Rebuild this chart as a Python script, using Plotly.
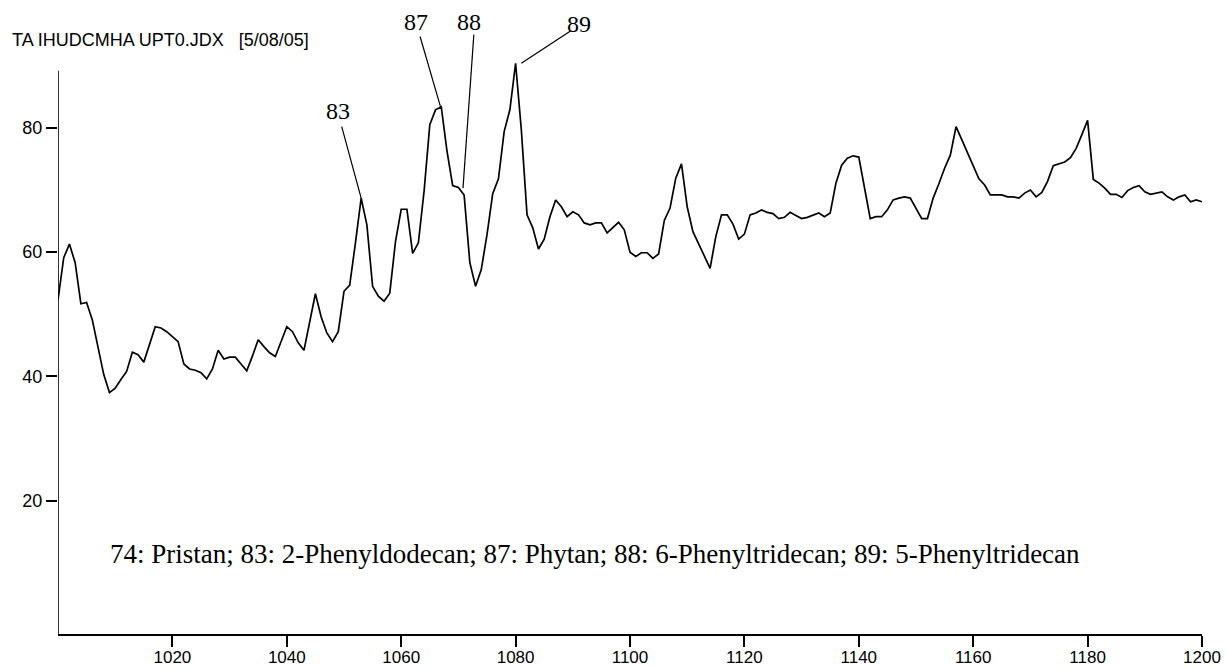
import plotly.graph_objects as go

# Retention index grid and detector signal
retention_index = list(range(1000, 1201))
signal = [
    52.3, 59.1, 61.3, 58.3, 51.7, 51.9, 49.1, 44.8, 40.3, 37.4,
    38.1, 39.5, 40.8, 43.9, 43.5, 42.3, 45.1, 48.0, 47.8, 47.2,
    46.4, 45.6, 42.0, 41.2, 41.0, 40.6, 39.6, 41.2, 44.2, 42.8,
    43.1, 43.1, 42.0, 40.9, 43.3, 45.9, 44.8, 43.8, 43.2, 45.6,
    48.0, 47.2, 45.4, 44.2, 48.8, 53.3, 49.6, 47.0, 45.6, 47.2,
    53.7, 54.7, 61.5, 68.7, 64.4, 54.5, 52.9, 52.1, 53.4, 61.7,
    66.9, 66.9, 59.8, 61.5, 69.8, 80.5, 82.9, 83.4, 76.3, 70.7,
    70.4, 69.2, 58.3, 54.5, 57.2, 62.8, 69.4, 71.8, 79.4, 82.9,
    90.4, 79.7, 66.0, 63.9, 60.5, 62.1, 65.7, 68.4, 67.3, 65.7,
    66.5, 66.0, 64.7, 64.4, 64.7, 64.7, 63.1, 64.0, 64.8, 63.6,
    60.0, 59.3, 59.9, 59.9, 59.0, 59.7, 65.1, 67.1, 71.9, 74.2,
    67.3, 63.3, 61.4, 59.4, 57.4, 62.5, 66.0, 66.0, 64.5, 62.1,
    62.9, 66.0, 66.3, 66.8, 66.4, 66.2, 65.4, 65.6, 66.4, 65.9,
    65.4, 65.6, 66.0, 66.3, 65.7, 66.3, 71.1, 74.0, 75.1, 75.5,
    75.3, 70.6, 65.4, 65.7, 65.7, 66.8, 68.4, 68.7, 68.9, 68.7,
    67.0, 65.4, 65.4, 68.7, 71.0, 73.5, 75.6, 80.2, 78.1, 75.9,
    73.8, 71.8, 70.8, 69.2, 69.2, 69.2, 68.9, 68.9, 68.7, 69.5,
    70.0, 68.9, 69.6, 71.4, 73.9, 74.2, 74.5, 75.2, 76.7, 78.9,
    81.2, 71.7, 71.1, 70.3, 69.3, 69.3, 68.8, 69.9, 70.4, 70.7,
    69.7, 69.3, 69.5, 69.7, 68.9, 68.4, 68.9, 69.2, 68.1, 68.4,
    68.1,
]

x_ticks = [1020, 1040, 1060, 1080, 1100, 1120, 1140, 1160, 1180, 1200]
y_ticks = [20, 40, 60, 80]

# Peak labels: text, label position, leader line start and end
peak_labels = ["83", "87", "88", "89"]
label_x = [1048.9, 1062.5, 1071.9, 1091.1]
label_y = [82.7, 97.0, 97.0, 96.7]
leader_from = [(1049.6, 80.2), (1063.3, 94.7), (1072.7, 95.0), (1089.6, 95.6)]
leader_to = [(1053.0, 68.7), (1066.9, 83.3), (1070.8, 70.3), (1081.0, 90.4)]

title_text = "TA IHUDCMHA UPT0.JDX   [5/08/05]"
legend_text = ("74: Pristan; 83: 2-Phenyldodecan; 87: Phytan; "
               "88: 6-Phenyltridecan; 89: 5-Phenyltridecan")

y_min, y_max = -1.45, 98.0
y_axis_top = 89.2

W, H = 1226, 668
ML, MR, MT, MB = 58, 24, 16, 34
plot_w, plot_h = W - ML - MR, H - MT - MB

sans = "Liberation Sans, Arial, sans-serif"
serif = "Liberation Serif, Times New Roman, serif"

fig = go.Figure()
fig.add_trace(go.Scatter(
    x=retention_index, y=signal, mode="lines",
    line=dict(color="black", width=1.7),
    hoverinfo="skip", showlegend=False,
))

shapes = [
    # vertical axis line stops below the top of the plotting area
    dict(type="line", xref="x", yref="y", x0=1000, x1=1000, y0=y_min, y1=y_axis_top,
         line=dict(color="black", width=1.6)),
]
for (x0, y0), (x1, y1) in zip(leader_from, leader_to):
    shapes.append(dict(type="line", xref="x", yref="y", x0=x0, y0=y0, x1=x1, y1=y1,
                       line=dict(color="black", width=1.2)))

annotations = []
for t, lx, ly in zip(peak_labels, label_x, label_y):
    annotations.append(dict(x=lx, y=ly, xref="x", yref="y", text=t, showarrow=False,
                            font=dict(family=serif, size=24, color="black"),
                            xanchor="center", yanchor="middle"))
annotations.append(dict(x=(10 - ML) / plot_w, y=(H - MB - 40) / plot_h,
                        xref="paper", yref="paper", text=title_text, showarrow=False,
                        xanchor="left", yanchor="middle",
                        font=dict(family=sans, size=18, color="black")))
annotations.append(dict(x=(108 - ML) / plot_w, y=(H - MB - 554) / plot_h,
                        xref="paper", yref="paper", text=legend_text, showarrow=False,
                        xanchor="left", yanchor="middle",
                        font=dict(family=serif, size=27, color="black")))

fig.update_layout(
    template="none",
    width=W, height=H,
    margin=dict(l=ML, r=MR, t=MT, b=MB, pad=0),
    paper_bgcolor="white", plot_bgcolor="white",
    shapes=shapes, annotations=annotations,
    xaxis=dict(range=[1000, 1200], tickvals=x_ticks, ticks="outside", ticklen=11,
               tickwidth=1.6, tickcolor="black", showline=True, linecolor="black",
               linewidth=1.6, showgrid=False, zeroline=False, automargin=False,
               ticklabelstandoff=-4,
               tickfont=dict(family=sans, size=17, color="black")),
    yaxis=dict(range=[y_min, y_max], tickvals=y_ticks, ticks="outside", ticklen=11,
               tickwidth=1.6, tickcolor="black", showline=False, showgrid=False,
               zeroline=False, automargin=False,
               tickfont=dict(family=sans, size=18, color="black")),
)

fig.write_html("out.html")
